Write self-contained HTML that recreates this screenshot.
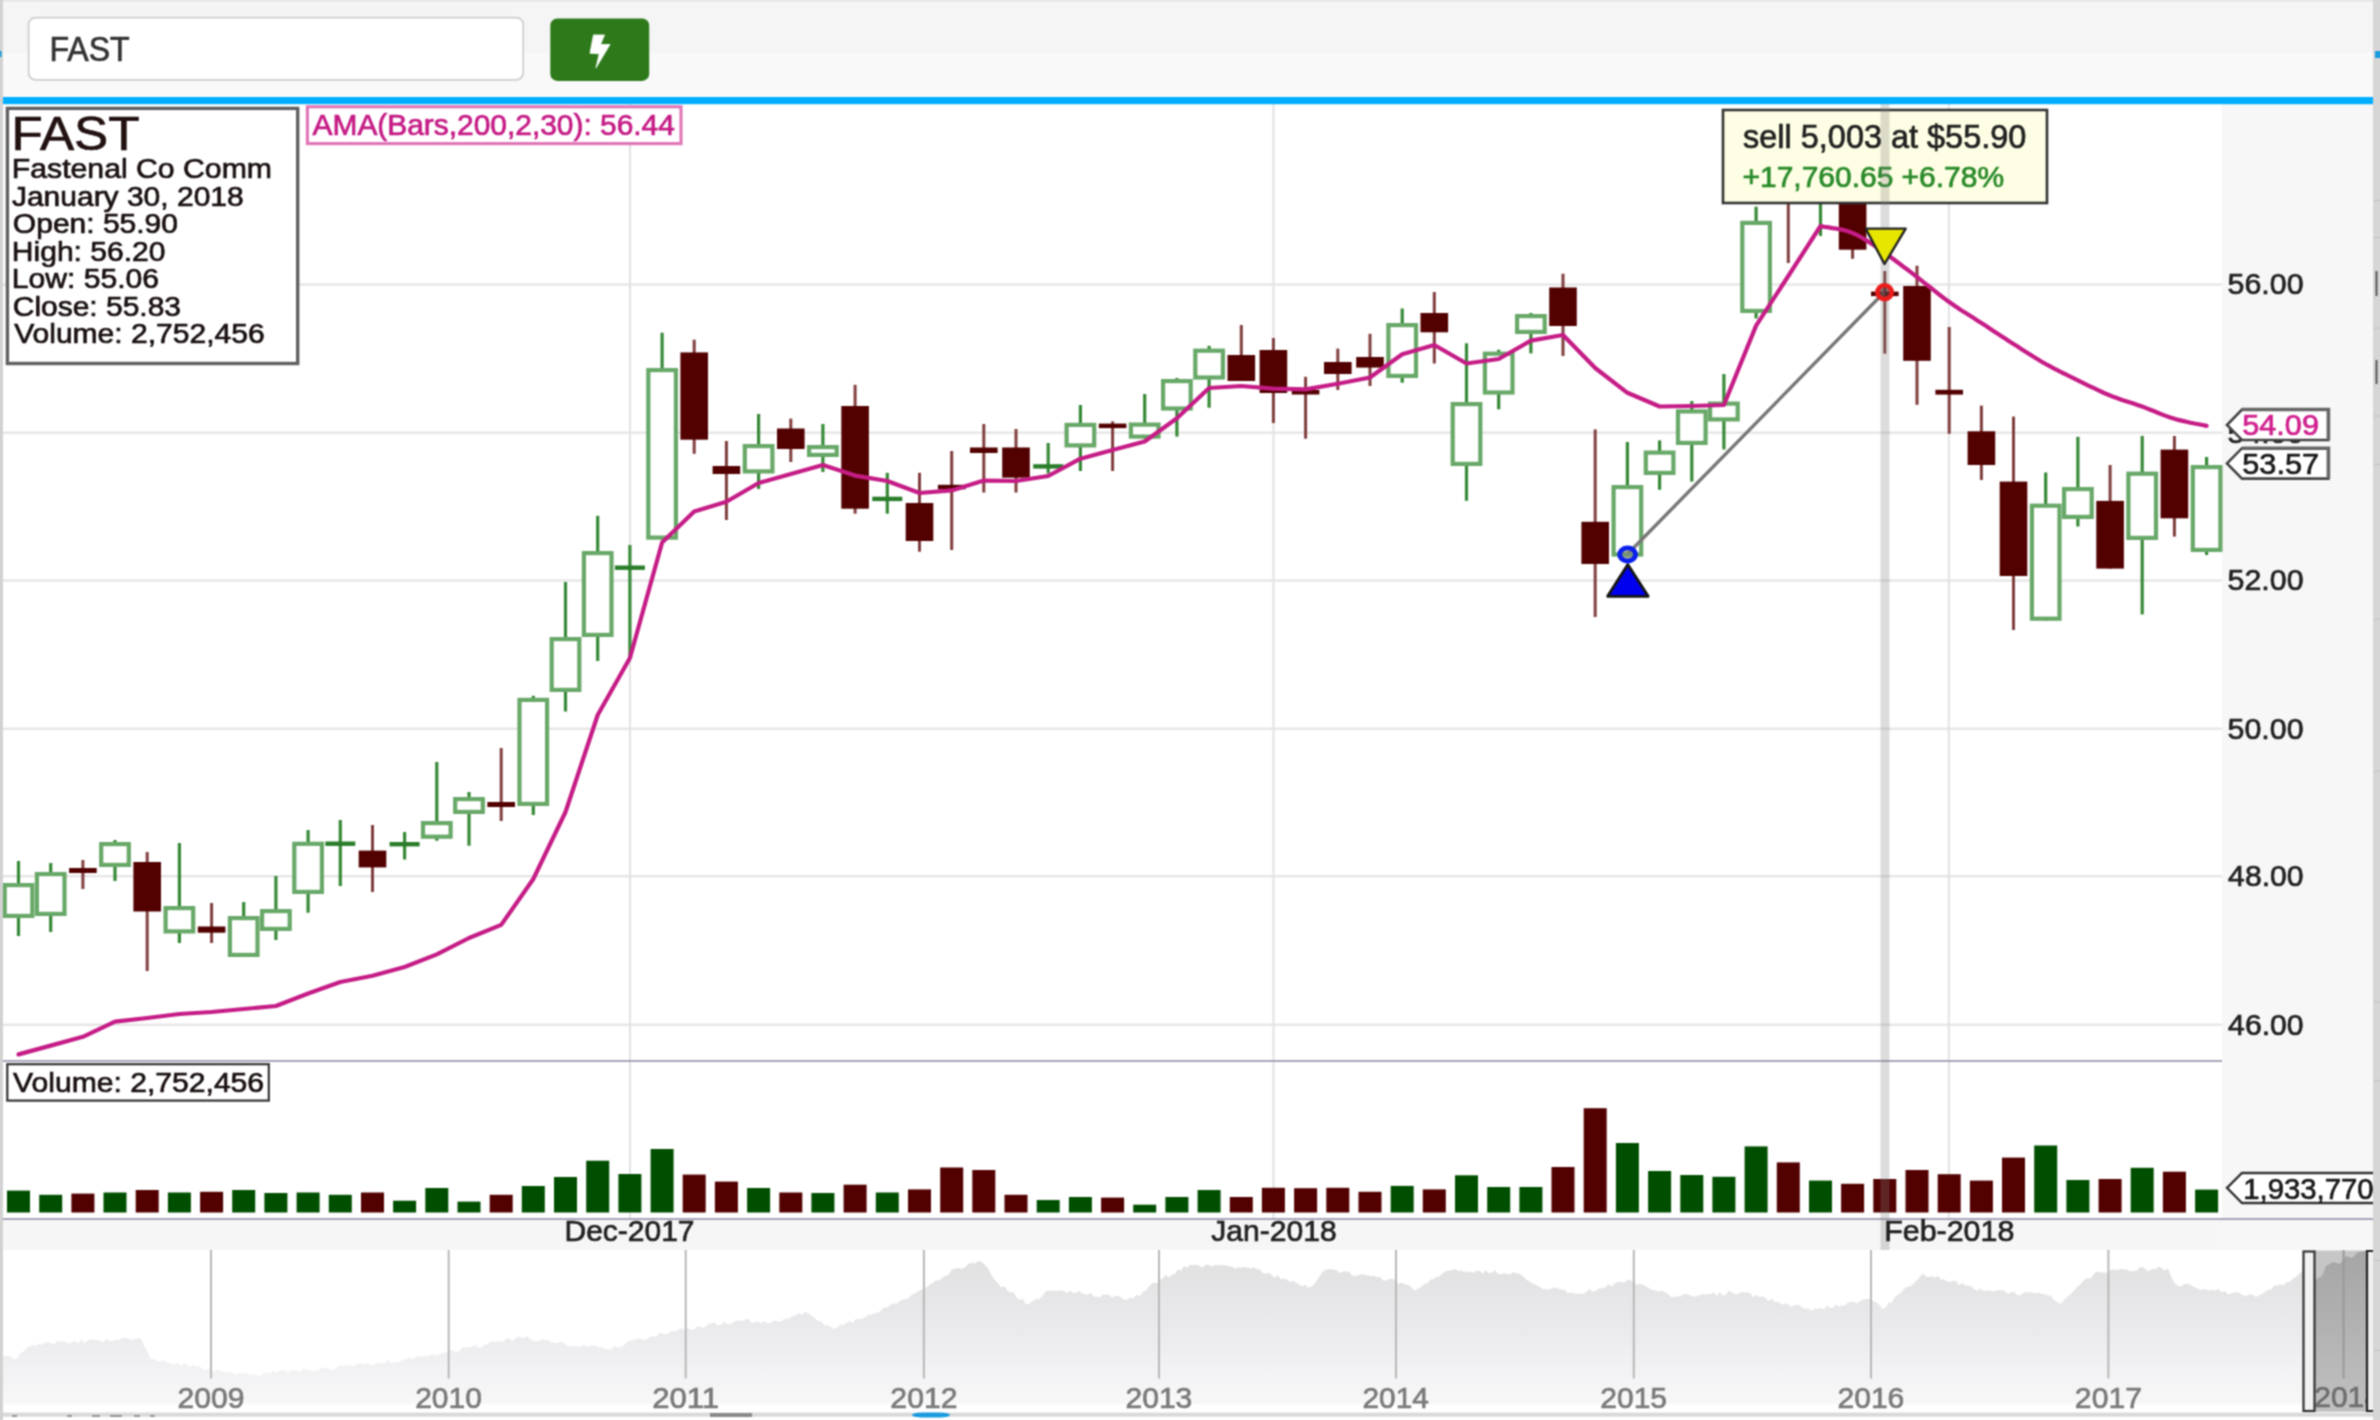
<!DOCTYPE html><html><head><meta charset="utf-8"><title>FAST chart</title><style>html,body{margin:0;padding:0;width:2380px;height:1420px;overflow:hidden;background:#fff;font-family:"Liberation Sans",sans-serif}</style></head><body><svg width="2380" height="1420" viewBox="0 0 2380 1420" style="position:absolute;left:0;top:0;font-family:'Liberation Sans',sans-serif">
<defs><filter id="soft" x="0" y="0" width="2380" height="1420" filterUnits="userSpaceOnUse" color-interpolation-filters="sRGB"><feConvolveMatrix order="3" kernelMatrix="1 2 1 2 4 2 1 2 1" divisor="16" edgeMode="duplicate"/></filter></defs>
<g filter="url(#soft)">
<rect x="0" y="0" width="2380" height="1420" fill="#ffffff"/>
<rect x="0" y="0" width="2380" height="53" fill="#f5f5f5"/>
<rect x="0" y="0" width="2380" height="1.5" fill="#e6e6e6"/>
<rect x="0" y="53" width="2380" height="44" fill="#f9f9fa"/>
<rect x="2222" y="104" width="152" height="1146" fill="#f7f7f7"/>
<rect x="3" y="1219.5" width="2219" height="30.5" fill="#f6f6f6"/>
<defs><linearGradient id="navg" x1="0" y1="1255" x2="0" y2="1413" gradientUnits="userSpaceOnUse"><stop offset="0" stop-color="#e0e0e1"/><stop offset="0.285" stop-color="#e6e6e8"/><stop offset="0.538" stop-color="#ececef"/><stop offset="0.728" stop-color="#f2f2f4"/><stop offset="0.92" stop-color="#f7f7f8"/><stop offset="1" stop-color="#fafafa"/></linearGradient></defs>
<polygon points="3,1404.5 3.0,1356.0 6.5,1356.0 9.9,1356.0 13.4,1358.9 16.8,1359.0 20.2,1353.3 23.6,1351.6 27.0,1347.6 30.0,1346.5 33.0,1344.6 36.0,1346.1 39.0,1343.5 42.0,1344.8 45.0,1342.7 48.0,1342.2 51.0,1343.2 54.0,1344.5 57.0,1340.9 60.0,1342.0 63.1,1340.7 66.2,1342.4 69.2,1343.7 72.3,1342.0 75.4,1341.2 78.5,1343.6 81.5,1339.5 84.6,1343.0 87.7,1340.4 90.8,1339.7 93.8,1339.5 96.9,1340.2 100.0,1341.0 103.2,1342.2 106.3,1339.3 109.5,1340.9 112.6,1341.0 115.8,1339.7 118.9,1340.3 122.1,1338.0 125.2,1337.8 128.4,1338.3 131.5,1340.3 134.7,1339.0 137.8,1338.3 141.0,1339.0 144.3,1346.0 147.7,1352.1 151.0,1359.0 154.0,1358.6 157.0,1361.3 160.0,1361.5 163.0,1360.0 166.0,1362.0 169.0,1362.3 172.0,1364.3 175.0,1364.2 178.0,1362.8 181.0,1366.4 184.0,1363.1 187.0,1365.0 190.0,1367.0 193.0,1364.8 196.0,1366.8 199.0,1365.4 202.0,1368.7 205.0,1369.6 208.0,1369.0 211.1,1369.7 214.3,1371.4 217.4,1369.4 220.6,1371.4 223.7,1371.4 226.9,1371.7 230.0,1371.6 233.1,1373.6 236.3,1374.5 239.4,1372.8 242.6,1374.0 245.7,1371.8 248.9,1375.0 252.0,1374.5 255.0,1374.9 258.0,1376.2 261.0,1375.2 264.0,1372.6 267.0,1372.8 270.0,1373.8 273.0,1370.7 276.0,1372.4 279.0,1370.9 282.0,1370.4 285.0,1369.9 288.0,1372.8 291.0,1369.7 294.0,1370.0 297.0,1370.4 300.0,1372.2 303.0,1368.5 306.0,1369.9 309.0,1370.1 312.0,1371.3 315.0,1370.8 318.0,1370.8 321.0,1367.9 324.0,1368.3 327.0,1367.8 330.0,1369.9 333.0,1370.0 336.0,1367.7 339.1,1365.8 342.1,1365.6 345.2,1365.5 348.2,1365.1 351.3,1365.9 354.4,1366.0 357.4,1364.2 360.5,1362.7 363.5,1364.2 366.6,1363.6 369.7,1364.1 372.7,1365.4 375.8,1363.9 378.8,1362.8 381.9,1362.9 385.0,1362.8 388.0,1359.7 391.1,1363.1 394.2,1362.2 397.2,1362.3 400.3,1361.6 403.3,1359.4 406.4,1359.1 409.5,1357.4 412.5,1359.4 415.6,1356.6 418.6,1356.2 421.7,1356.5 424.8,1355.9 427.8,1356.4 430.9,1354.7 433.9,1354.2 437.0,1356.0 440.4,1353.5 443.7,1352.2 447.1,1352.4 450.4,1349.9 453.8,1351.0 456.9,1352.0 459.9,1350.3 463.0,1347.6 466.0,1347.5 469.1,1347.3 472.1,1346.7 475.2,1345.0 478.2,1347.6 481.3,1347.6 484.3,1344.7 487.4,1344.2 490.5,1341.8 493.5,1341.3 496.6,1341.7 499.6,1340.8 502.7,1342.6 505.7,1339.1 508.8,1337.9 511.8,1341.3 514.9,1338.9 517.9,1336.6 521.0,1337.5 524.0,1338.1 527.0,1336.2 530.0,1338.9 533.0,1341.2 536.0,1341.2 539.0,1340.8 542.0,1339.3 545.0,1340.2 548.0,1339.7 551.0,1342.8 554.0,1342.2 557.0,1343.7 560.0,1342.1 563.0,1342.0 566.0,1345.0 569.0,1346.2 572.0,1346.0 575.0,1346.2 578.0,1346.7 581.0,1346.8 584.0,1344.9 587.0,1346.6 590.0,1346.3 593.0,1345.3 596.0,1345.7 599.0,1347.2 602.0,1347.5 605.0,1349.0 608.0,1349.0 611.1,1349.4 614.1,1346.3 617.2,1347.6 620.2,1347.0 623.3,1346.0 626.3,1342.6 629.4,1341.2 632.4,1340.4 635.5,1339.4 638.5,1338.6 641.5,1339.6 644.6,1340.0 647.6,1338.9 650.7,1336.5 653.7,1336.4 656.8,1336.3 659.8,1332.3 662.9,1334.0 665.9,1334.3 669.0,1332.9 672.0,1330.8 675.1,1331.4 678.1,1329.8 681.2,1328.0 684.3,1330.2 687.3,1327.8 690.4,1329.4 693.5,1329.7 696.5,1326.7 699.6,1326.2 702.7,1328.2 705.8,1326.7 708.8,1323.8 711.9,1323.2 715.0,1322.8 718.0,1325.7 721.1,1324.8 724.2,1321.4 727.2,1324.0 730.3,1324.2 733.4,1322.3 736.4,1320.5 739.5,1320.7 742.6,1321.0 745.7,1319.3 748.8,1318.9 752.0,1323.2 755.1,1321.9 758.2,1321.4 761.3,1323.3 764.4,1321.2 767.5,1323.2 770.7,1323.1 773.8,1320.5 776.9,1320.8 780.0,1322.0 783.1,1319.8 786.2,1318.4 789.4,1318.6 792.5,1315.9 795.6,1315.4 798.8,1312.9 801.9,1315.1 805.0,1312.0 808.2,1313.2 811.4,1315.6 814.7,1318.0 817.9,1321.3 821.1,1321.1 824.3,1325.2 827.6,1325.2 830.8,1327.3 834.0,1329.0 837.1,1327.9 840.3,1324.4 843.4,1325.1 846.5,1322.7 849.7,1320.7 852.8,1323.0 855.9,1319.0 859.1,1319.1 862.2,1319.0 865.3,1317.0 868.5,1314.7 871.6,1314.4 874.7,1313.3 877.9,1313.1 881.0,1310.6 884.1,1307.3 887.2,1307.7 890.2,1304.7 893.3,1303.3 896.4,1303.9 899.5,1301.1 902.5,1299.8 905.6,1299.1 908.7,1298.2 911.8,1294.5 914.8,1293.7 917.9,1291.6 921.0,1290.0 924.1,1288.1 927.2,1287.0 930.3,1284.0 933.4,1282.4 936.5,1280.2 939.5,1280.3 942.6,1277.3 945.7,1276.1 948.8,1274.4 951.9,1269.5 955.0,1268.6 958.3,1268.0 961.7,1268.9 965.0,1267.6 968.4,1263.7 971.7,1262.8 975.0,1263.4 978.4,1260.9 981.7,1262.0 985.1,1265.2 988.4,1268.8 991.8,1275.8 995.1,1280.6 998.5,1283.7 1001.5,1287.5 1004.5,1286.2 1007.6,1290.7 1010.6,1292.5 1013.6,1292.2 1016.6,1297.5 1019.6,1299.9 1022.7,1298.6 1025.7,1303.9 1028.7,1303.9 1032.1,1301.2 1035.5,1299.3 1038.8,1299.3 1042.2,1296.4 1045.6,1291.2 1049.0,1290.4 1052.0,1290.4 1055.0,1291.1 1058.0,1290.6 1061.0,1290.3 1064.0,1291.1 1067.0,1293.2 1070.0,1290.4 1073.0,1293.0 1076.0,1292.8 1079.0,1291.3 1082.0,1293.0 1085.0,1294.5 1088.0,1294.4 1091.0,1292.7 1094.0,1297.0 1097.0,1296.5 1100.0,1297.6 1103.0,1294.1 1106.0,1295.1 1109.0,1294.4 1112.0,1297.9 1115.0,1296.0 1118.0,1295.7 1121.0,1297.3 1124.0,1299.7 1127.0,1299.6 1130.0,1297.4 1133.0,1298.8 1136.3,1294.9 1139.7,1295.9 1143.0,1292.1 1146.4,1290.3 1149.8,1285.2 1153.1,1282.8 1156.5,1283.2 1159.8,1280.0 1162.8,1278.2 1165.8,1275.1 1168.9,1277.4 1171.9,1274.6 1174.9,1273.8 1177.9,1269.2 1180.9,1271.1 1184.0,1266.1 1187.0,1268.1 1190.0,1265.0 1193.0,1265.0 1196.1,1264.7 1199.1,1265.8 1202.1,1267.6 1205.2,1264.9 1208.2,1264.4 1211.2,1266.4 1214.2,1265.3 1217.3,1264.9 1220.3,1265.3 1223.3,1265.0 1226.4,1265.8 1229.4,1266.5 1232.4,1266.7 1235.4,1268.8 1238.5,1267.0 1241.5,1268.1 1244.5,1266.8 1247.6,1267.7 1250.6,1268.6 1253.6,1267.4 1256.6,1269.3 1259.7,1269.2 1262.7,1273.3 1265.7,1273.4 1268.7,1272.8 1271.7,1274.9 1274.8,1277.9 1277.8,1275.1 1280.8,1279.2 1283.8,1278.4 1286.8,1279.6 1289.9,1282.0 1292.9,1281.0 1295.9,1282.4 1298.9,1284.1 1301.9,1286.4 1305.0,1284.5 1308.0,1287.5 1311.0,1287.0 1314.4,1283.7 1317.8,1279.1 1321.1,1273.8 1324.5,1270.0 1327.6,1269.8 1330.6,1268.9 1333.7,1269.7 1336.8,1269.9 1339.8,1273.2 1342.9,1271.5 1346.0,1271.6 1349.0,1271.6 1352.1,1275.4 1355.2,1276.0 1358.2,1275.5 1361.3,1274.3 1364.3,1274.5 1367.4,1275.2 1370.5,1276.3 1373.5,1275.4 1376.6,1277.2 1379.7,1276.8 1382.7,1280.3 1385.8,1280.8 1388.9,1279.3 1391.9,1278.4 1395.0,1280.0 1398.3,1283.8 1401.7,1282.6 1405.0,1284.6 1408.3,1284.7 1411.7,1288.1 1415.0,1290.4 1418.1,1288.6 1421.2,1287.0 1424.2,1284.0 1427.3,1283.6 1430.4,1279.7 1433.5,1279.2 1436.6,1276.7 1439.7,1276.4 1442.8,1273.1 1445.8,1271.3 1448.9,1270.8 1452.0,1270.0 1455.1,1269.0 1458.1,1270.7 1461.2,1270.6 1464.3,1271.8 1467.3,1271.5 1470.4,1271.9 1473.5,1272.8 1476.5,1270.8 1479.6,1270.7 1482.7,1273.8 1485.8,1270.3 1488.8,1272.9 1491.9,1272.8 1495.0,1270.3 1498.0,1273.9 1501.1,1274.3 1504.2,1273.3 1507.2,1274.0 1510.3,1274.5 1513.4,1271.7 1516.4,1273.5 1519.5,1273.6 1522.9,1275.9 1526.2,1279.5 1529.6,1281.6 1533.0,1284.0 1536.3,1285.1 1539.7,1287.0 1542.8,1289.3 1545.9,1288.9 1549.0,1289.4 1552.1,1287.9 1555.2,1287.6 1558.3,1288.5 1561.4,1290.0 1564.5,1289.4 1567.6,1293.2 1570.7,1292.5 1573.8,1293.3 1576.9,1293.8 1580.0,1293.8 1583.2,1293.8 1586.3,1292.1 1589.5,1289.1 1592.6,1291.7 1595.8,1290.7 1598.9,1288.8 1602.0,1288.0 1605.2,1287.8 1608.4,1284.3 1611.5,1286.4 1614.7,1283.4 1617.8,1281.8 1621.0,1281.8 1624.1,1283.0 1627.2,1279.8 1630.4,1280.3 1633.5,1282.5 1636.6,1284.8 1639.7,1283.9 1642.9,1284.6 1646.0,1286.2 1649.1,1288.3 1652.2,1289.8 1655.3,1290.4 1658.4,1291.7 1661.5,1290.4 1664.7,1291.9 1667.8,1293.5 1670.9,1296.9 1674.0,1297.0 1677.0,1295.9 1680.1,1296.8 1683.1,1294.2 1686.2,1294.2 1689.2,1294.8 1692.3,1296.4 1695.3,1296.3 1698.4,1296.0 1701.4,1294.0 1704.5,1294.8 1707.5,1294.3 1710.5,1294.1 1713.6,1292.4 1716.6,1295.6 1719.7,1292.3 1722.7,1295.5 1725.8,1295.1 1728.8,1290.8 1731.9,1292.5 1734.9,1293.9 1738.0,1294.3 1741.0,1292.0 1744.1,1292.6 1747.2,1292.6 1750.3,1293.1 1753.3,1297.2 1756.4,1294.8 1759.5,1297.2 1762.6,1296.1 1765.7,1298.6 1768.8,1301.3 1771.9,1298.5 1775.0,1302.3 1778.0,1301.7 1781.1,1304.2 1784.2,1304.2 1787.3,1302.9 1790.4,1306.7 1793.5,1305.7 1796.6,1304.5 1799.7,1305.2 1802.7,1308.1 1805.8,1308.8 1808.9,1308.9 1812.0,1310.6 1815.0,1308.4 1818.0,1308.7 1821.0,1307.9 1824.0,1309.6 1827.0,1305.3 1830.0,1308.0 1833.0,1307.7 1836.0,1304.0 1839.0,1306.9 1842.0,1305.3 1845.0,1305.5 1848.0,1302.2 1851.0,1302.0 1854.0,1301.4 1857.0,1303.5 1860.0,1301.1 1863.0,1299.4 1866.0,1299.1 1869.0,1298.8 1872.4,1300.4 1875.8,1301.9 1879.1,1304.7 1882.5,1309.0 1885.6,1307.7 1888.7,1302.6 1891.8,1302.7 1894.9,1297.0 1898.0,1294.4 1901.1,1292.7 1904.3,1288.6 1907.4,1286.7 1910.5,1286.5 1913.6,1283.5 1916.7,1280.4 1919.8,1276.9 1922.9,1273.6 1925.9,1276.3 1928.9,1277.2 1931.9,1276.3 1934.9,1277.9 1937.9,1275.8 1940.9,1279.7 1943.9,1279.3 1946.9,1281.4 1949.9,1281.8 1953.0,1281.1 1956.0,1280.9 1959.0,1285.6 1962.0,1282.9 1965.0,1285.2 1968.0,1285.5 1971.0,1286.2 1974.0,1288.9 1977.0,1290.8 1980.0,1288.5 1983.0,1290.4 1986.1,1291.3 1989.1,1290.0 1992.2,1291.3 1995.3,1290.9 1998.4,1290.1 2001.4,1290.3 2004.5,1290.7 2007.6,1294.0 2010.7,1292.5 2013.7,1291.5 2016.8,1294.7 2019.9,1295.4 2022.9,1293.2 2026.0,1292.1 2029.1,1292.5 2032.2,1292.3 2035.2,1293.6 2038.3,1292.8 2041.4,1293.7 2044.5,1294.0 2047.5,1295.6 2050.6,1295.5 2054.0,1300.0 2057.3,1302.2 2060.7,1303.9 2064.0,1300.1 2067.3,1296.8 2070.7,1293.9 2074.0,1290.4 2077.3,1287.1 2080.7,1284.1 2084.0,1280.1 2087.3,1278.2 2090.7,1278.5 2094.0,1273.6 2097.4,1271.4 2100.8,1272.6 2104.2,1272.6 2107.6,1273.1 2111.0,1269.8 2114.4,1269.5 2117.8,1270.0 2120.9,1268.8 2124.1,1269.4 2127.2,1269.5 2130.4,1271.6 2133.5,1271.1 2136.6,1271.1 2139.8,1267.3 2142.9,1267.2 2146.0,1270.1 2149.2,1270.9 2152.3,1268.9 2155.4,1269.3 2158.6,1266.7 2161.7,1268.3 2164.9,1270.6 2168.0,1268.6 2171.5,1277.6 2175.0,1283.7 2178.1,1285.8 2181.2,1286.8 2184.3,1284.1 2187.4,1284.0 2190.5,1284.7 2193.6,1286.9 2196.7,1288.1 2199.8,1289.7 2202.9,1289.3 2206.0,1289.5 2209.1,1290.5 2212.2,1289.7 2215.3,1290.6 2218.4,1288.8 2221.5,1292.6 2224.6,1290.7 2227.7,1294.2 2230.8,1293.5 2233.9,1292.6 2237.0,1292.3 2240.1,1293.4 2243.2,1295.6 2246.3,1296.3 2249.4,1294.3 2252.5,1294.6 2255.6,1297.0 2258.7,1295.6 2261.8,1294.3 2264.9,1291.9 2268.0,1289.6 2271.1,1289.8 2274.2,1285.6 2277.4,1285.4 2280.5,1284.5 2283.6,1285.2 2286.7,1282.3 2289.8,1281.8 2292.9,1278.4 2296.0,1277.0 2299.4,1273.4 2302.7,1271.0 2306.1,1271.7 2309.4,1268.2 2312.8,1264.0 2316.1,1260.3 2319.5,1260.0 2322.6,1259.6 2325.8,1259.9 2328.9,1258.4 2332.1,1257.3 2335.2,1258.7 2338.4,1259.4 2341.5,1255.9 2344.7,1254.7 2347.8,1255.6 2351.0,1255.5 2354.1,1256.3 2357.3,1253.7 2360.4,1256.0 2363.6,1255.3 2366.7,1253.8 2369.9,1252.1 2373.0,1253.0 2373,1404.5" fill="url(#navg)"/>
<rect x="210.0" y="1250" width="2" height="128.5" fill="#b8b8b8"/>
<text x="177.49" y="1408.00" font-size="29.07" fill="#7a7a7a" textLength="66.94" lengthAdjust="spacingAndGlyphs" stroke="#7a7a7a" stroke-width="0.7" >2009</text>
<rect x="447.7" y="1250" width="2" height="128.5" fill="#b8b8b8"/>
<text x="415.19" y="1408.00" font-size="29.07" fill="#7a7a7a" textLength="66.68" lengthAdjust="spacingAndGlyphs" stroke="#7a7a7a" stroke-width="0.7" >2010</text>
<rect x="684.7" y="1250" width="2" height="128.5" fill="#b8b8b8"/>
<text x="652.19" y="1408.00" font-size="29.07" fill="#7a7a7a" textLength="66.98" lengthAdjust="spacingAndGlyphs" stroke="#7a7a7a" stroke-width="0.7" >2011</text>
<rect x="922.9" y="1250" width="2" height="128.5" fill="#b8b8b8"/>
<text x="890.38" y="1408.00" font-size="29.07" fill="#7a7a7a" textLength="67.03" lengthAdjust="spacingAndGlyphs" stroke="#7a7a7a" stroke-width="0.7" >2012</text>
<rect x="1158.0" y="1250" width="2" height="128.5" fill="#b8b8b8"/>
<text x="1125.49" y="1408.00" font-size="29.07" fill="#7a7a7a" textLength="66.83" lengthAdjust="spacingAndGlyphs" stroke="#7a7a7a" stroke-width="0.7" >2013</text>
<rect x="1395.0" y="1250" width="2" height="128.5" fill="#b8b8b8"/>
<text x="1362.50" y="1408.00" font-size="29.07" fill="#7a7a7a" textLength="66.37" lengthAdjust="spacingAndGlyphs" stroke="#7a7a7a" stroke-width="0.7" >2014</text>
<rect x="1632.8" y="1250" width="2" height="128.5" fill="#b8b8b8"/>
<text x="1600.29" y="1408.00" font-size="29.07" fill="#7a7a7a" textLength="66.77" lengthAdjust="spacingAndGlyphs" stroke="#7a7a7a" stroke-width="0.7" >2015</text>
<rect x="1870.0" y="1250" width="2" height="128.5" fill="#b8b8b8"/>
<text x="1837.49" y="1408.00" font-size="29.07" fill="#7a7a7a" textLength="66.83" lengthAdjust="spacingAndGlyphs" stroke="#7a7a7a" stroke-width="0.7" >2016</text>
<rect x="2107.4" y="1250" width="2" height="128.5" fill="#b8b8b8"/>
<text x="2074.88" y="1408.00" font-size="29.07" fill="#7a7a7a" textLength="67.03" lengthAdjust="spacingAndGlyphs" stroke="#7a7a7a" stroke-width="0.7" >2017</text>
<defs><linearGradient id="selg" x1="0" y1="1255" x2="0" y2="1413" gradientUnits="userSpaceOnUse"><stop offset="0" stop-color="#a6a6a6"/><stop offset="1" stop-color="#c0c0c0"/></linearGradient></defs>
<rect x="2314.5" y="1250.5" width="52" height="161" fill="#c6c6c6"/>
<polygon points="2314.5,1411.5 2314.5,1280 2322,1276 2326,1266 2333,1262 2340,1264 2346,1256 2352,1258 2358,1252 2366.5,1251 2366.5,1411.5" fill="url(#selg)"/>
<rect x="2342.6" y="1250" width="2" height="128.5" fill="#999"/>
<text x="2314.19" y="1407.00" font-size="29.07" fill="#6e6e6e" textLength="66.82" lengthAdjust="spacingAndGlyphs" stroke="#6e6e6e" stroke-width="0.7" >2018</text>
<rect x="2366.5" y="1250.5" width="7" height="161" fill="#f0f0f0"/>
<path d="M2373,1251 L2367,1251 L2367,1411 L2373,1411" fill="none" stroke="#222" stroke-width="2.2"/>
<rect x="2303.5" y="1251.5" width="11" height="159.5" fill="#f2f2f2" stroke="#333" stroke-width="2.2"/>
<rect x="0" y="1412.6" width="2380" height="4.1" fill="#d9d9d9"/>
<rect x="912" y="1412.5" width="38" height="5" rx="10" fill="#1a9be0"/>
<rect x="710" y="1413" width="42" height="4" fill="#8a8a8a"/>
<rect x="12" y="1415" width="5" height="2" fill="#777" opacity="0.7"/>
<rect x="67" y="1415" width="5" height="2" fill="#777" opacity="0.7"/>
<rect x="92" y="1415" width="8" height="2" fill="#777" opacity="0.7"/>
<rect x="110" y="1415" width="12" height="2" fill="#777" opacity="0.7"/>
<rect x="134" y="1415" width="6" height="2" fill="#777" opacity="0.7"/>
<rect x="150" y="1415" width="5" height="2" fill="#777" opacity="0.7"/>
<rect x="3" y="283.3" width="2219" height="2.4" fill="#e6e6e6"/>
<rect x="3" y="431.5" width="2219" height="2.4" fill="#e6e6e6"/>
<rect x="3" y="579.3" width="2219" height="2.4" fill="#e6e6e6"/>
<rect x="3" y="727.6" width="2219" height="2.4" fill="#e6e6e6"/>
<rect x="3" y="875.0" width="2219" height="2.4" fill="#e6e6e6"/>
<rect x="3" y="1023.6" width="2219" height="2.4" fill="#e6e6e6"/>
<rect x="629.0" y="104" width="2" height="1115.5" fill="#e2e2e2"/>
<rect x="1272.5" y="104" width="2" height="1115.5" fill="#e2e2e2"/>
<rect x="1947.8" y="104" width="2" height="1115.5" fill="#e2e2e2"/>
<rect x="3" y="1060" width="2219" height="2" fill="#a6a6b8"/>
<rect x="3" y="1218" width="2370" height="2" fill="#a6a6b8"/>
<rect x="7.0" y="1190.6" width="23" height="21.9" fill="#004f00"/>
<rect x="39.2" y="1194.8" width="23" height="17.7" fill="#004f00"/>
<rect x="71.4" y="1193.6" width="23" height="18.9" fill="#530000"/>
<rect x="103.5" y="1192.5" width="23" height="20.0" fill="#004f00"/>
<rect x="135.7" y="1190.0" width="23" height="22.5" fill="#530000"/>
<rect x="167.9" y="1192.5" width="23" height="20.0" fill="#004f00"/>
<rect x="200.1" y="1191.8" width="23" height="20.7" fill="#530000"/>
<rect x="232.2" y="1190.0" width="23" height="22.5" fill="#004f00"/>
<rect x="264.4" y="1193.0" width="23" height="19.5" fill="#004f00"/>
<rect x="296.6" y="1192.5" width="23" height="20.0" fill="#004f00"/>
<rect x="328.8" y="1194.8" width="23" height="17.7" fill="#004f00"/>
<rect x="361.0" y="1192.5" width="23" height="20.0" fill="#530000"/>
<rect x="393.1" y="1200.7" width="23" height="11.8" fill="#004f00"/>
<rect x="425.3" y="1188.0" width="23" height="24.5" fill="#004f00"/>
<rect x="457.5" y="1201.6" width="23" height="10.9" fill="#004f00"/>
<rect x="489.7" y="1194.8" width="23" height="17.7" fill="#530000"/>
<rect x="521.8" y="1186.0" width="23" height="26.5" fill="#004f00"/>
<rect x="554.0" y="1177.0" width="23" height="35.5" fill="#004f00"/>
<rect x="586.2" y="1160.7" width="23" height="51.8" fill="#004f00"/>
<rect x="618.4" y="1174.0" width="23" height="38.5" fill="#004f00"/>
<rect x="650.6" y="1149.0" width="23" height="63.5" fill="#004f00"/>
<rect x="682.7" y="1174.6" width="23" height="37.9" fill="#530000"/>
<rect x="714.9" y="1181.6" width="23" height="30.9" fill="#530000"/>
<rect x="747.1" y="1188.0" width="23" height="24.5" fill="#004f00"/>
<rect x="779.3" y="1192.5" width="23" height="20.0" fill="#530000"/>
<rect x="811.4" y="1193.0" width="23" height="19.5" fill="#004f00"/>
<rect x="843.6" y="1184.7" width="23" height="27.8" fill="#530000"/>
<rect x="875.8" y="1192.5" width="23" height="20.0" fill="#004f00"/>
<rect x="908.0" y="1189.4" width="23" height="23.1" fill="#530000"/>
<rect x="940.2" y="1167.5" width="23" height="45.0" fill="#530000"/>
<rect x="972.3" y="1170.0" width="23" height="42.5" fill="#530000"/>
<rect x="1004.5" y="1194.8" width="23" height="17.7" fill="#530000"/>
<rect x="1036.7" y="1200.0" width="23" height="12.5" fill="#004f00"/>
<rect x="1068.9" y="1197.0" width="23" height="15.5" fill="#004f00"/>
<rect x="1101.1" y="1197.6" width="23" height="14.9" fill="#530000"/>
<rect x="1133.2" y="1204.7" width="23" height="7.8" fill="#004f00"/>
<rect x="1165.4" y="1197.0" width="23" height="15.5" fill="#004f00"/>
<rect x="1197.6" y="1190.0" width="23" height="22.5" fill="#004f00"/>
<rect x="1229.8" y="1197.0" width="23" height="15.5" fill="#530000"/>
<rect x="1261.9" y="1187.8" width="23" height="24.7" fill="#530000"/>
<rect x="1294.1" y="1188.2" width="23" height="24.3" fill="#530000"/>
<rect x="1326.3" y="1187.8" width="23" height="24.7" fill="#530000"/>
<rect x="1358.5" y="1191.8" width="23" height="20.7" fill="#530000"/>
<rect x="1390.7" y="1185.9" width="23" height="26.6" fill="#004f00"/>
<rect x="1422.8" y="1189.4" width="23" height="23.1" fill="#530000"/>
<rect x="1455.0" y="1175.3" width="23" height="37.2" fill="#004f00"/>
<rect x="1487.2" y="1187.0" width="23" height="25.5" fill="#004f00"/>
<rect x="1519.4" y="1187.0" width="23" height="25.5" fill="#004f00"/>
<rect x="1551.5" y="1167.0" width="23" height="45.5" fill="#530000"/>
<rect x="1583.7" y="1108.2" width="23" height="104.3" fill="#530000"/>
<rect x="1615.9" y="1143.0" width="23" height="69.5" fill="#004f00"/>
<rect x="1648.1" y="1171.0" width="23" height="41.5" fill="#004f00"/>
<rect x="1680.3" y="1175.0" width="23" height="37.5" fill="#004f00"/>
<rect x="1712.4" y="1176.8" width="23" height="35.7" fill="#004f00"/>
<rect x="1744.6" y="1146.4" width="23" height="66.1" fill="#004f00"/>
<rect x="1776.8" y="1162.4" width="23" height="50.1" fill="#530000"/>
<rect x="1809.0" y="1180.6" width="23" height="31.9" fill="#004f00"/>
<rect x="1841.1" y="1183.8" width="23" height="28.7" fill="#530000"/>
<rect x="1873.3" y="1179.0" width="23" height="33.5" fill="#530000"/>
<rect x="1905.5" y="1170.0" width="23" height="42.5" fill="#530000"/>
<rect x="1937.7" y="1174.2" width="23" height="38.3" fill="#530000"/>
<rect x="1969.9" y="1180.6" width="23" height="31.9" fill="#530000"/>
<rect x="2002.0" y="1157.6" width="23" height="54.9" fill="#530000"/>
<rect x="2034.2" y="1145.5" width="23" height="67.0" fill="#004f00"/>
<rect x="2066.4" y="1180.0" width="23" height="32.5" fill="#004f00"/>
<rect x="2098.6" y="1179.0" width="23" height="33.5" fill="#530000"/>
<rect x="2130.7" y="1167.8" width="23" height="44.7" fill="#004f00"/>
<rect x="2162.9" y="1171.7" width="23" height="40.8" fill="#530000"/>
<rect x="2195.1" y="1189.6" width="23" height="22.9" fill="#004f00"/>
<rect x="16.9" y="861.0" width="3.2" height="75.0" fill="#378937"/>
<rect x="4.7" y="885.1" width="27.6" height="30.8" fill="#ffffff" stroke="#68a868" stroke-width="4.2"/>
<rect x="49.1" y="863.0" width="3.2" height="69.0" fill="#378937"/>
<rect x="36.9" y="874.1" width="27.6" height="39.8" fill="#ffffff" stroke="#68a868" stroke-width="4.2"/>
<rect x="81.4" y="860.0" width="3.0" height="29.0" fill="#803e3e"/>
<rect x="69.1" y="868.0" width="27.6" height="5.0" fill="#530000"/>
<rect x="113.4" y="840.0" width="3.2" height="41.0" fill="#378937"/>
<rect x="101.2" y="844.1" width="27.6" height="20.8" fill="#ffffff" stroke="#68a868" stroke-width="4.2"/>
<rect x="145.7" y="852.0" width="3.0" height="119.0" fill="#803e3e"/>
<rect x="133.4" y="862.0" width="27.6" height="49.5" fill="#530000"/>
<rect x="177.8" y="843.0" width="3.2" height="100.0" fill="#378937"/>
<rect x="165.6" y="908.1" width="27.6" height="23.3" fill="#ffffff" stroke="#68a868" stroke-width="4.2"/>
<rect x="210.1" y="903.0" width="3.0" height="40.0" fill="#803e3e"/>
<rect x="197.8" y="926.5" width="27.6" height="6.2" fill="#530000"/>
<rect x="242.1" y="902.0" width="3.2" height="55.0" fill="#378937"/>
<rect x="229.9" y="918.1" width="27.6" height="36.8" fill="#ffffff" stroke="#68a868" stroke-width="4.2"/>
<rect x="274.3" y="876.0" width="3.2" height="64.0" fill="#378937"/>
<rect x="262.1" y="911.1" width="27.6" height="17.8" fill="#ffffff" stroke="#68a868" stroke-width="4.2"/>
<rect x="306.5" y="830.0" width="3.2" height="82.7" fill="#378937"/>
<rect x="294.3" y="843.8" width="27.6" height="48.1" fill="#ffffff" stroke="#68a868" stroke-width="4.2"/>
<rect x="338.7" y="820.0" width="3.2" height="66.0" fill="#378937"/>
<rect x="325.3" y="841.5" width="30" height="4.4" fill="#2a7d2a"/>
<rect x="371.0" y="825.0" width="3.0" height="67.0" fill="#803e3e"/>
<rect x="358.7" y="850.6" width="27.6" height="16.8" fill="#530000"/>
<rect x="403.0" y="832.0" width="3.2" height="27.5" fill="#378937"/>
<rect x="389.6" y="842.0" width="30" height="4.4" fill="#2a7d2a"/>
<rect x="435.2" y="762.0" width="3.2" height="78.7" fill="#378937"/>
<rect x="423.0" y="823.1" width="27.6" height="13.6" fill="#ffffff" stroke="#68a868" stroke-width="4.2"/>
<rect x="467.4" y="792.0" width="3.2" height="53.7" fill="#378937"/>
<rect x="455.2" y="799.1" width="27.6" height="12.8" fill="#ffffff" stroke="#68a868" stroke-width="4.2"/>
<rect x="499.7" y="748.0" width="3.0" height="73.0" fill="#803e3e"/>
<rect x="487.4" y="802.0" width="27.6" height="5.0" fill="#530000"/>
<rect x="531.7" y="695.8" width="3.2" height="119.2" fill="#378937"/>
<rect x="519.5" y="699.9" width="27.6" height="104.0" fill="#ffffff" stroke="#68a868" stroke-width="4.2"/>
<rect x="563.9" y="582.0" width="3.2" height="129.5" fill="#378937"/>
<rect x="551.7" y="639.1" width="27.6" height="50.8" fill="#ffffff" stroke="#68a868" stroke-width="4.2"/>
<rect x="596.1" y="515.8" width="3.2" height="145.2" fill="#378937"/>
<rect x="583.9" y="553.1" width="27.6" height="81.8" fill="#ffffff" stroke="#68a868" stroke-width="4.2"/>
<rect x="628.3" y="545.0" width="3.2" height="111.6" fill="#378937"/>
<rect x="614.9" y="565.5" width="30" height="4.4" fill="#2a7d2a"/>
<rect x="660.5" y="332.7" width="3.2" height="207.0" fill="#378937"/>
<rect x="648.3" y="370.1" width="27.6" height="167.5" fill="#ffffff" stroke="#68a868" stroke-width="4.2"/>
<rect x="692.7" y="339.7" width="3.0" height="114.1" fill="#803e3e"/>
<rect x="680.4" y="352.4" width="27.6" height="87.3" fill="#530000"/>
<rect x="724.9" y="441.0" width="3.0" height="79.0" fill="#803e3e"/>
<rect x="712.6" y="466.0" width="27.6" height="8.0" fill="#530000"/>
<rect x="757.0" y="414.0" width="3.2" height="75.0" fill="#378937"/>
<rect x="744.8" y="446.1" width="27.6" height="25.3" fill="#ffffff" stroke="#68a868" stroke-width="4.2"/>
<rect x="789.3" y="418.6" width="3.0" height="43.4" fill="#803e3e"/>
<rect x="777.0" y="428.5" width="27.6" height="20.5" fill="#530000"/>
<rect x="821.3" y="424.0" width="3.2" height="48.0" fill="#378937"/>
<rect x="809.1" y="447.1" width="27.6" height="7.8" fill="#ffffff" stroke="#68a868" stroke-width="4.2"/>
<rect x="853.6" y="384.8" width="3.0" height="128.9" fill="#803e3e"/>
<rect x="841.3" y="406.0" width="27.6" height="102.7" fill="#530000"/>
<rect x="885.7" y="472.8" width="3.2" height="40.9" fill="#378937"/>
<rect x="872.3" y="496.7" width="30" height="4.4" fill="#2a7d2a"/>
<rect x="918.0" y="472.8" width="3.0" height="78.9" fill="#803e3e"/>
<rect x="905.7" y="503.0" width="27.6" height="38.0" fill="#530000"/>
<rect x="950.2" y="451.0" width="3.0" height="99.0" fill="#803e3e"/>
<rect x="937.9" y="484.8" width="27.6" height="4.5" fill="#530000"/>
<rect x="982.3" y="424.0" width="3.0" height="68.5" fill="#803e3e"/>
<rect x="970.0" y="447.5" width="27.6" height="5.5" fill="#530000"/>
<rect x="1014.5" y="429.0" width="3.0" height="63.5" fill="#803e3e"/>
<rect x="1002.2" y="447.5" width="27.6" height="30.2" fill="#530000"/>
<rect x="1046.6" y="443.0" width="3.2" height="30.5" fill="#378937"/>
<rect x="1033.2" y="464.2" width="30" height="4.4" fill="#2a7d2a"/>
<rect x="1078.8" y="405.0" width="3.2" height="66.0" fill="#378937"/>
<rect x="1066.6" y="424.9" width="27.6" height="20.5" fill="#ffffff" stroke="#68a868" stroke-width="4.2"/>
<rect x="1111.1" y="421.4" width="3.0" height="49.6" fill="#803e3e"/>
<rect x="1098.8" y="423.6" width="27.6" height="4.5" fill="#530000"/>
<rect x="1143.1" y="394.0" width="3.2" height="44.7" fill="#378937"/>
<rect x="1130.9" y="424.6" width="27.6" height="12.0" fill="#ffffff" stroke="#68a868" stroke-width="4.2"/>
<rect x="1175.3" y="378.0" width="3.2" height="58.6" fill="#378937"/>
<rect x="1163.1" y="381.1" width="27.6" height="27.4" fill="#ffffff" stroke="#68a868" stroke-width="4.2"/>
<rect x="1207.5" y="345.8" width="3.2" height="61.9" fill="#378937"/>
<rect x="1195.3" y="350.7" width="27.6" height="26.8" fill="#ffffff" stroke="#68a868" stroke-width="4.2"/>
<rect x="1239.8" y="325.0" width="3.0" height="56.0" fill="#803e3e"/>
<rect x="1227.5" y="355.0" width="27.6" height="26.0" fill="#530000"/>
<rect x="1271.9" y="338.0" width="3.0" height="85.0" fill="#803e3e"/>
<rect x="1259.6" y="350.0" width="27.6" height="43.0" fill="#530000"/>
<rect x="1304.1" y="376.8" width="3.0" height="61.9" fill="#803e3e"/>
<rect x="1291.8" y="390.0" width="27.6" height="4.5" fill="#530000"/>
<rect x="1336.3" y="348.6" width="3.0" height="41.4" fill="#803e3e"/>
<rect x="1324.0" y="362.0" width="27.6" height="12.0" fill="#530000"/>
<rect x="1368.5" y="333.8" width="3.0" height="52.2" fill="#803e3e"/>
<rect x="1356.2" y="357.0" width="27.6" height="10.6" fill="#530000"/>
<rect x="1400.6" y="308.5" width="3.2" height="74.2" fill="#378937"/>
<rect x="1388.4" y="325.1" width="27.6" height="50.8" fill="#ffffff" stroke="#68a868" stroke-width="4.2"/>
<rect x="1432.8" y="292.0" width="3.0" height="71.5" fill="#803e3e"/>
<rect x="1420.5" y="313.0" width="27.6" height="19.3" fill="#530000"/>
<rect x="1464.9" y="343.3" width="3.2" height="157.5" fill="#378937"/>
<rect x="1452.7" y="404.1" width="27.6" height="59.8" fill="#ffffff" stroke="#68a868" stroke-width="4.2"/>
<rect x="1497.1" y="349.7" width="3.2" height="59.6" fill="#378937"/>
<rect x="1484.9" y="353.7" width="27.6" height="38.8" fill="#ffffff" stroke="#68a868" stroke-width="4.2"/>
<rect x="1529.3" y="313.0" width="3.2" height="40.4" fill="#378937"/>
<rect x="1517.1" y="316.1" width="27.6" height="15.8" fill="#ffffff" stroke="#68a868" stroke-width="4.2"/>
<rect x="1561.5" y="273.7" width="3.0" height="82.3" fill="#803e3e"/>
<rect x="1549.2" y="287.5" width="27.6" height="38.5" fill="#530000"/>
<rect x="1593.7" y="429.4" width="3.0" height="187.6" fill="#803e3e"/>
<rect x="1581.4" y="521.8" width="27.6" height="42.2" fill="#530000"/>
<rect x="1625.8" y="442.0" width="3.2" height="114.6" fill="#378937"/>
<rect x="1613.6" y="487.1" width="27.6" height="67.4" fill="#ffffff" stroke="#68a868" stroke-width="4.2"/>
<rect x="1658.0" y="440.4" width="3.2" height="49.4" fill="#378937"/>
<rect x="1645.8" y="452.6" width="27.6" height="20.3" fill="#ffffff" stroke="#68a868" stroke-width="4.2"/>
<rect x="1690.2" y="401.0" width="3.2" height="80.6" fill="#378937"/>
<rect x="1678.0" y="411.4" width="27.6" height="31.5" fill="#ffffff" stroke="#68a868" stroke-width="4.2"/>
<rect x="1722.3" y="374.0" width="3.2" height="75.5" fill="#378937"/>
<rect x="1710.1" y="403.6" width="27.6" height="15.8" fill="#ffffff" stroke="#68a868" stroke-width="4.2"/>
<rect x="1754.5" y="206.7" width="3.2" height="111.8" fill="#378937"/>
<rect x="1742.3" y="222.9" width="27.6" height="88.0" fill="#ffffff" stroke="#68a868" stroke-width="4.2"/>
<rect x="1786.8" y="150.0" width="3.0" height="113.0" fill="#803e3e"/>
<rect x="1774.5" y="160.0" width="27.6" height="30.0" fill="#530000"/>
<rect x="1818.9" y="150.0" width="3.2" height="86.0" fill="#378937"/>
<rect x="1806.7" y="162.1" width="27.6" height="35.8" fill="#ffffff" stroke="#68a868" stroke-width="4.2"/>
<rect x="1851.1" y="150.0" width="3.0" height="108.8" fill="#803e3e"/>
<rect x="1838.8" y="160.0" width="27.6" height="89.7" fill="#530000"/>
<rect x="1883.3" y="271.0" width="3.0" height="82.7" fill="#803e3e"/>
<rect x="1871.0" y="291.6" width="27.6" height="4.5" fill="#530000"/>
<rect x="1915.5" y="265.7" width="3.0" height="139.1" fill="#803e3e"/>
<rect x="1903.2" y="286.0" width="27.6" height="74.8" fill="#530000"/>
<rect x="1947.7" y="327.0" width="3.0" height="106.8" fill="#803e3e"/>
<rect x="1935.4" y="389.8" width="27.6" height="4.8" fill="#530000"/>
<rect x="1979.9" y="405.6" width="3.0" height="74.4" fill="#803e3e"/>
<rect x="1967.6" y="431.3" width="27.6" height="33.7" fill="#530000"/>
<rect x="2012.0" y="416.6" width="3.0" height="213.4" fill="#803e3e"/>
<rect x="1999.7" y="481.6" width="27.6" height="94.4" fill="#530000"/>
<rect x="2044.1" y="472.5" width="3.2" height="148.3" fill="#378937"/>
<rect x="2031.9" y="505.7" width="27.6" height="113.0" fill="#ffffff" stroke="#68a868" stroke-width="4.2"/>
<rect x="2076.3" y="436.8" width="3.2" height="89.7" fill="#378937"/>
<rect x="2064.1" y="489.1" width="27.6" height="27.8" fill="#ffffff" stroke="#68a868" stroke-width="4.2"/>
<rect x="2108.6" y="465.0" width="3.0" height="103.6" fill="#803e3e"/>
<rect x="2096.3" y="500.9" width="27.6" height="67.7" fill="#530000"/>
<rect x="2140.6" y="435.9" width="3.2" height="178.5" fill="#378937"/>
<rect x="2128.4" y="473.7" width="27.6" height="64.2" fill="#ffffff" stroke="#68a868" stroke-width="4.2"/>
<rect x="2172.9" y="436.0" width="3.0" height="100.6" fill="#803e3e"/>
<rect x="2160.6" y="449.6" width="27.6" height="68.7" fill="#530000"/>
<rect x="2205.0" y="457.0" width="3.2" height="98.0" fill="#378937"/>
<rect x="2192.8" y="467.1" width="27.6" height="82.8" fill="#ffffff" stroke="#68a868" stroke-width="4.2"/>
<polyline points="18.5,1054.4 50.7,1045.6 82.9,1036.8 115.0,1021.7 147.2,1018.0 179.4,1014.0 211.6,1012.0 243.7,1009.0 275.9,1006.0 308.1,993.5 340.3,982.0 372.5,975.8 404.6,967.0 436.8,954.4 469.0,938.0 501.2,924.9 533.3,879.0 565.5,812.0 597.7,715.0 629.9,658.0 662.1,542.5 694.2,511.5 726.4,501.7 758.6,483.0 790.8,474.0 822.9,465.0 855.1,475.6 887.3,481.0 919.5,493.0 951.7,490.4 983.8,480.6 1016.0,481.0 1048.2,476.0 1080.4,458.7 1112.6,450.0 1144.7,441.5 1176.9,418.3 1209.1,388.0 1241.3,386.0 1273.4,388.7 1305.6,389.4 1337.8,383.8 1370.0,377.5 1402.2,354.3 1434.3,345.0 1466.5,363.5 1498.7,359.0 1530.9,340.6 1563.0,335.0 1595.2,368.0 1627.4,392.8 1659.6,406.5 1691.8,406.0 1723.9,405.0 1756.1,325.6 1788.3,276.0 1820.5,226.0 1824.5,226.8 1828.5,227.4 1832.5,228.1 1836.6,228.7 1840.6,229.4 1844.6,230.3 1848.6,231.5 1852.6,233.0 1856.7,234.9 1860.7,237.0 1864.7,239.4 1868.7,241.9 1872.8,244.6 1876.8,247.4 1880.8,250.2 1884.8,253.0 1888.8,255.8 1892.9,258.7 1896.9,261.7 1900.9,264.7 1904.9,267.8 1909.0,270.8 1913.0,273.9 1917.0,277.0 1921.0,280.1 1925.0,283.3 1929.1,286.5 1933.1,289.7 1937.1,292.9 1941.1,296.0 1945.2,299.1 1949.2,302.0 1953.2,304.8 1957.2,307.5 1961.2,310.2 1965.3,312.8 1969.3,315.3 1973.3,317.8 1977.3,320.4 1981.4,323.0 1985.4,325.6 1989.4,328.3 1993.4,330.9 1997.4,333.6 2001.5,336.2 2005.5,338.8 2009.5,341.4 2013.5,344.0 2017.6,346.6 2021.6,349.2 2025.6,351.7 2029.6,354.3 2033.6,356.8 2037.7,359.3 2041.7,361.7 2045.7,364.0 2049.7,366.2 2053.8,368.4 2057.8,370.4 2061.8,372.5 2065.8,374.4 2069.8,376.4 2073.9,378.3 2077.9,380.3 2081.9,382.3 2085.9,384.3 2090.0,386.3 2094.0,388.2 2098.0,390.1 2102.0,392.0 2106.0,393.8 2110.1,395.5 2114.1,397.1 2118.1,398.5 2122.1,399.9 2126.2,401.2 2130.2,402.5 2134.2,403.8 2138.2,405.2 2142.2,406.6 2146.3,408.1 2150.3,409.7 2154.3,411.3 2158.3,413.0 2162.4,414.6 2166.4,416.1 2170.4,417.5 2174.4,418.8 2178.4,419.9 2182.5,420.9 2186.5,421.8 2190.5,422.7 2194.5,423.5 2198.6,424.2 2202.6,425.0 2206.6,425.9" fill="none" stroke="#c51c86" stroke-width="4.2" stroke-linejoin="round" stroke-linecap="round"/>
<line x1="1627.6" y1="554" x2="1884.5" y2="292" stroke="#777" stroke-width="3.4"/>
<rect x="1723" y="110" width="324" height="93" fill="#fefee4" stroke="#333" stroke-width="2.6"/>
<text x="1743.10" y="148.40" font-size="32.99" fill="#222" textLength="283.17" lengthAdjust="spacingAndGlyphs" stroke="#222" stroke-width="0.7" >sell 5,003 at $55.90</text>
<text x="1742.54" y="187.00" font-size="28.63" fill="#2a8a2a" textLength="261.53" lengthAdjust="spacingAndGlyphs" stroke="#2a8a2a" stroke-width="0.7" >+17,760.65 +6.78%</text>
<rect x="1880.5" y="104" width="9" height="1146" fill="rgb(130,130,130)" fill-opacity="0.28"/>
<polygon points="1627.8,564.5 1648.2,596.3 1607.6,596.3" fill="#0000ee" stroke="#141414" stroke-width="2.8" stroke-linejoin="round"/>
<ellipse cx="1627.6" cy="554.5" rx="7.9" ry="6.6" fill="#7a8a7a" fill-opacity="0.7" stroke="#0a1eee" stroke-width="4.8"/>
<ellipse cx="1884.6" cy="292.2" rx="7.2" ry="6.9" fill="#5a2a2a" fill-opacity="0.6" stroke="#ec1c1c" stroke-width="4.6"/>
<polygon points="1865.6,228.6 1905.7,228.6 1884.5,264" fill="#e6e600" stroke="#222" stroke-width="2.4" stroke-linejoin="round"/>
<rect x="7.4" y="108.4" width="290.3" height="255.1" fill="#ffffff" stroke="#606060" stroke-width="3.4"/>
<text x="11.49" y="150.00" font-size="48.55" fill="#221111" textLength="128.06" lengthAdjust="spacingAndGlyphs" stroke="#221111" stroke-width="0.7" >FAST</text>
<text x="11.82" y="178.00" font-size="27.62" fill="#1a1111" textLength="260.17" lengthAdjust="spacingAndGlyphs" stroke="#1a1111" stroke-width="0.7" >Fastenal Co Comm</text>
<text x="11.93" y="205.50" font-size="27.62" fill="#1a1111" textLength="231.77" lengthAdjust="spacingAndGlyphs" stroke="#1a1111" stroke-width="0.7" >January 30, 2018</text>
<text x="12.88" y="233.10" font-size="27.62" fill="#1a1111" textLength="165.09" lengthAdjust="spacingAndGlyphs" stroke="#1a1111" stroke-width="0.7" >Open: 55.90</text>
<text x="11.84" y="260.60" font-size="27.62" fill="#1a1111" textLength="153.64" lengthAdjust="spacingAndGlyphs" stroke="#1a1111" stroke-width="0.7" >High: 56.20</text>
<text x="11.83" y="288.20" font-size="27.62" fill="#1a1111" textLength="147.29" lengthAdjust="spacingAndGlyphs" stroke="#1a1111" stroke-width="0.7" >Low: 55.06</text>
<text x="12.78" y="315.80" font-size="27.62" fill="#1a1111" textLength="168.24" lengthAdjust="spacingAndGlyphs" stroke="#1a1111" stroke-width="0.7" >Close: 55.83</text>
<text x="14.17" y="343.30" font-size="27.62" fill="#1a1111" textLength="250.44" lengthAdjust="spacingAndGlyphs" stroke="#1a1111" stroke-width="0.7" >Volume: 2,752,456</text>
<rect x="307.4" y="106.8" width="373.6" height="36.8" fill="#ffffff" stroke="#e076b6" stroke-width="3.1"/>
<text x="312.54" y="134.50" font-size="29.36" fill="#c51c86" textLength="362.33" lengthAdjust="spacingAndGlyphs" stroke="#c51c86" stroke-width="0.7" >AMA(Bars,200,2,30): 56.44</text>
<rect x="7.3" y="1064.2" width="261.5" height="36.4" fill="#ffffff" stroke="#333" stroke-width="2.2"/>
<text x="13.07" y="1092.20" font-size="28.34" fill="#1a1111" textLength="251.05" lengthAdjust="spacingAndGlyphs" stroke="#1a1111" stroke-width="0.7" >Volume: 2,752,456</text>
<text x="2227.58" y="294.35" font-size="28.63" fill="#222" textLength="76.00" lengthAdjust="spacingAndGlyphs" stroke="#222" stroke-width="0.7" >56.00</text>
<text x="2227.58" y="442.55" font-size="28.63" fill="#222" textLength="76.00" lengthAdjust="spacingAndGlyphs" stroke="#222" stroke-width="0.7" >54.00</text>
<text x="2227.58" y="590.35" font-size="28.63" fill="#222" textLength="76.00" lengthAdjust="spacingAndGlyphs" stroke="#222" stroke-width="0.7" >52.00</text>
<text x="2227.58" y="738.65" font-size="28.63" fill="#222" textLength="76.00" lengthAdjust="spacingAndGlyphs" stroke="#222" stroke-width="0.7" >50.00</text>
<text x="2228.11" y="886.05" font-size="28.63" fill="#222" textLength="75.47" lengthAdjust="spacingAndGlyphs" stroke="#222" stroke-width="0.7" >48.00</text>
<text x="2228.11" y="1034.65" font-size="28.63" fill="#222" textLength="75.47" lengthAdjust="spacingAndGlyphs" stroke="#222" stroke-width="0.7" >46.00</text>
<polygon points="2227,425.0 2242,409.5 2328.4,409.5 2328.4,440.0 2242,440.0" fill="#ffffff" stroke="#444" stroke-width="2.6" stroke-linejoin="miter"/>
<path d="M2242,409.5 L2328.4,409.5 L2328.4,440.0" fill="none" stroke="#666" stroke-width="3.6"/>
<text x="2242.27" y="435.20" font-size="29.51" fill="#d0208f" textLength="76.68" lengthAdjust="spacingAndGlyphs" stroke="#d0208f" stroke-width="0.7" >54.09</text>
<polygon points="2227,463.4 2242,448.2 2328.4,448.2 2328.4,478.6 2242,478.6" fill="#ffffff" stroke="#444" stroke-width="2.6" stroke-linejoin="miter"/>
<path d="M2242,448.2 L2328.4,448.2 L2328.4,478.6" fill="none" stroke="#666" stroke-width="3.6"/>
<text x="2242.27" y="473.60" font-size="29.51" fill="#1a1a1a" textLength="76.77" lengthAdjust="spacingAndGlyphs" stroke="#1a1a1a" stroke-width="0.7" >53.57</text>
<polygon points="2227,1187.8 2242,1173 2380,1173 2380,1203 2242,1203" fill="#ffffff" stroke="#333" stroke-width="2.4"/>
<text x="2243.27" y="1198.70" font-size="29.07" fill="#1a1a1a" textLength="130.38" lengthAdjust="spacingAndGlyphs" stroke="#1a1a1a" stroke-width="0.7" >1,933,770</text>
<text x="564.54" y="1241.00" font-size="29.07" fill="#222" textLength="129.97" lengthAdjust="spacingAndGlyphs" stroke="#222" stroke-width="0.7" >Dec-2017</text>
<text x="1211.33" y="1241.00" font-size="29.07" fill="#222" textLength="125.27" lengthAdjust="spacingAndGlyphs" stroke="#222" stroke-width="0.7" >Jan-2018</text>
<text x="1884.21" y="1241.00" font-size="29.07" fill="#222" textLength="130.11" lengthAdjust="spacingAndGlyphs" stroke="#222" stroke-width="0.7" >Feb-2018</text>
<rect x="28.6" y="17.6" width="494.6" height="62.2" rx="7" fill="#ffffff" stroke="#cfcfcf" stroke-width="1.8"/>
<text x="49.42" y="60.70" font-size="34.59" fill="#333" textLength="80.30" lengthAdjust="spacingAndGlyphs" stroke="#333" stroke-width="0.7" >FAST</text>
<rect x="550.3" y="18.5" width="98.9" height="62.4" rx="7" fill="#2e7a1b"/>
<polygon points="593.5,35 604.5,35 600.5,44.5 610,44.5 596,67.8 599.2,53.8 590,53.2" fill="#ffffff" stroke="#ffffff" stroke-width="0.8" stroke-linejoin="round"/>
<rect x="3" y="97" width="2370" height="7.2" fill="#00aeff"/>
<rect x="0" y="0" width="3" height="1420" fill="#d2d2d2"/>
<rect x="0" y="51" width="1.5" height="6" fill="#1a9be0"/>
<rect x="2373" y="0" width="7" height="1420" fill="#d6d6d6"/>
<rect x="2375" y="51" width="5" height="7" fill="#1a9be0"/>
<rect x="2374" y="200.0" width="6" height="1" fill="#c0c0c0"/>
<rect x="2374" y="237.0" width="6" height="1" fill="#c0c0c0"/>
<rect x="2374" y="327.7" width="6" height="1" fill="#c0c0c0"/>
<rect x="2374" y="415.5" width="6" height="1" fill="#c0c0c0"/>
<rect x="2374" y="463.8" width="6" height="1" fill="#c0c0c0"/>
<rect x="2374" y="618.7" width="6" height="1" fill="#c0c0c0"/>
<rect x="2374" y="770.7" width="6" height="1" fill="#c0c0c0"/>
<rect x="2374" y="1001.5" width="6" height="1" fill="#c0c0c0"/>
<rect x="2374" y="1080.4" width="6" height="1" fill="#c0c0c0"/>
<rect x="2374" y="1260.0" width="6" height="1" fill="#c0c0c0"/>
<rect x="2374" y="1350.0" width="6" height="1" fill="#c0c0c0"/>
<rect x="2375.5" y="271" width="2" height="25" fill="#555"/>
<rect x="2375.5" y="360" width="2" height="24" fill="#555"/>
</g></svg></body></html>
